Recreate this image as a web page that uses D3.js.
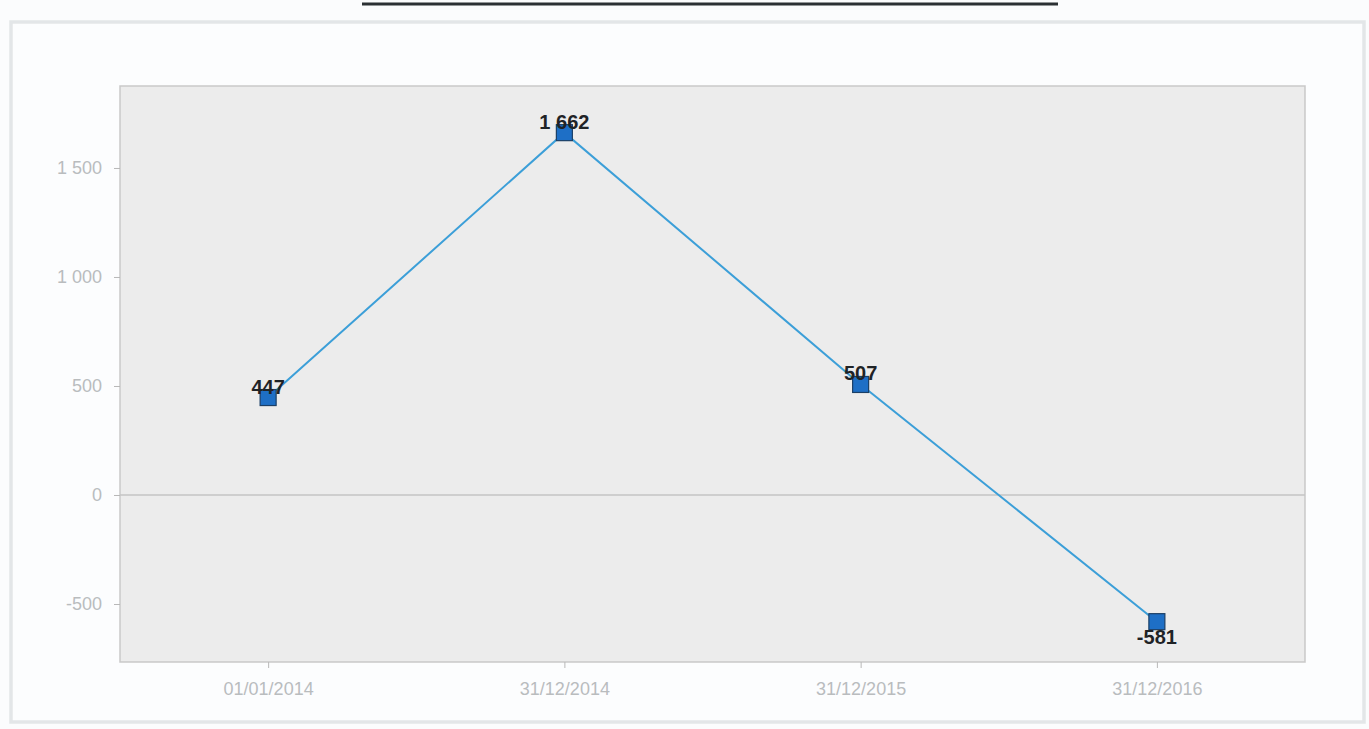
<!DOCTYPE html>
<html>
<head>
<meta charset="utf-8">
<script src="https://cdn.jsdelivr.net/npm/d3@7"></script>
<style>
  html, body { margin: 0; padding: 0; background: #fbfcfd; }
  svg { display: block; font-family: "Liberation Sans", Arial, sans-serif; }
</style>
</head>
<body>
<div id="chart"></div>
<script>
// Data
const dates = ['01/01/2014', '31/12/2014', '31/12/2015', '31/12/2016'];
const values = [447, 1662, 507, -581];
const yTicks = [-500, 0, 500, 1000, 1500];

const W = 1369, H = 729;
const plot = { left: 120, top: 86, right: 1305, bottom: 662 };

// space as thousands separator, plain hyphen for negatives
const fmt = v => d3.format(',')(v).replace(/,/g, ' ').replace('\u2212', '-');

const svg = d3.select('#chart').append('svg')
  .attr('width', W)
  .attr('height', H);

// outer panel
svg.append('rect')
  .attr('x', 11).attr('y', 22)
  .attr('width', 1353).attr('height', 700)
  .attr('fill', '#fcfdfe')
  .attr('stroke', '#e3e6e8').attr('stroke-width', 3.5);

// title underline (title itself is cut off at the top)
svg.append('line')
  .attr('x1', 362).attr('x2', 1058)
  .attr('y1', 4).attr('y2', 4)
  .attr('stroke', '#2b3033').attr('stroke-width', 3);

const x = d3.scalePoint()
  .domain(dates)
  .range([plot.left, plot.right])
  .padding(0.5);

const y = d3.scaleLinear()
  .domain([-766, 1876])
  .range([plot.bottom, plot.top]);

// plot background
svg.append('rect')
  .attr('x', plot.left).attr('y', plot.top)
  .attr('width', plot.right - plot.left).attr('height', plot.bottom - plot.top)
  .attr('fill', '#ececec')
  .attr('stroke', '#c9c9c9').attr('stroke-width', 1.5);

// zero line
svg.append('line')
  .attr('x1', plot.left).attr('x2', plot.right)
  .attr('y1', y(0)).attr('y2', y(0))
  .attr('stroke', '#c4c4c4').attr('stroke-width', 1.5);

// axes
const yAxis = svg.append('g')
  .attr('transform', `translate(${plot.left},0)`)
  .call(d3.axisLeft(y).tickValues(yTicks).tickFormat(fmt).tickSize(6).tickPadding(12));
const xAxis = svg.append('g')
  .attr('transform', `translate(0,${plot.bottom})`)
  .call(d3.axisBottom(x).tickSize(6).tickPadding(14));

[yAxis, xAxis].forEach(a => {
  a.select('.domain').remove();
  a.selectAll('line').attr('stroke', '#b8b8b8');
  a.selectAll('text')
    .attr('fill', '#b9bcbe')
    .style('font-size', '18px');
});

// line
svg.append('path')
  .datum(values)
  .attr('fill', 'none')
  .attr('stroke', '#3c9fd8')
  .attr('stroke-width', 2)
  .attr('d', d3.line().x((d, i) => x(dates[i])).y(d => y(d)));

// markers
const s = 16;
svg.selectAll('rect.pt')
  .data(values)
  .enter().append('rect')
  .attr('class', 'pt')
  .attr('x', (d, i) => x(dates[i]) - s / 2)
  .attr('y', d => y(d) - s / 2)
  .attr('width', s).attr('height', s)
  .attr('fill', '#1e6fc6')
  .attr('stroke', '#1b3f66').attr('stroke-width', 1.2);

// value labels
svg.selectAll('text.lbl')
  .data(values)
  .enter().append('text')
  .attr('class', 'lbl')
  .attr('x', (d, i) => x(dates[i]))
  .attr('y', d => d < 0 ? y(d) + 22 : y(d) - 4)
  .attr('text-anchor', 'middle')
  .attr('fill', '#1f2326')
  .style('font-size', '20px')
  .style('font-weight', 'bold')
  .text(fmt);
</script>
</body>
</html>
